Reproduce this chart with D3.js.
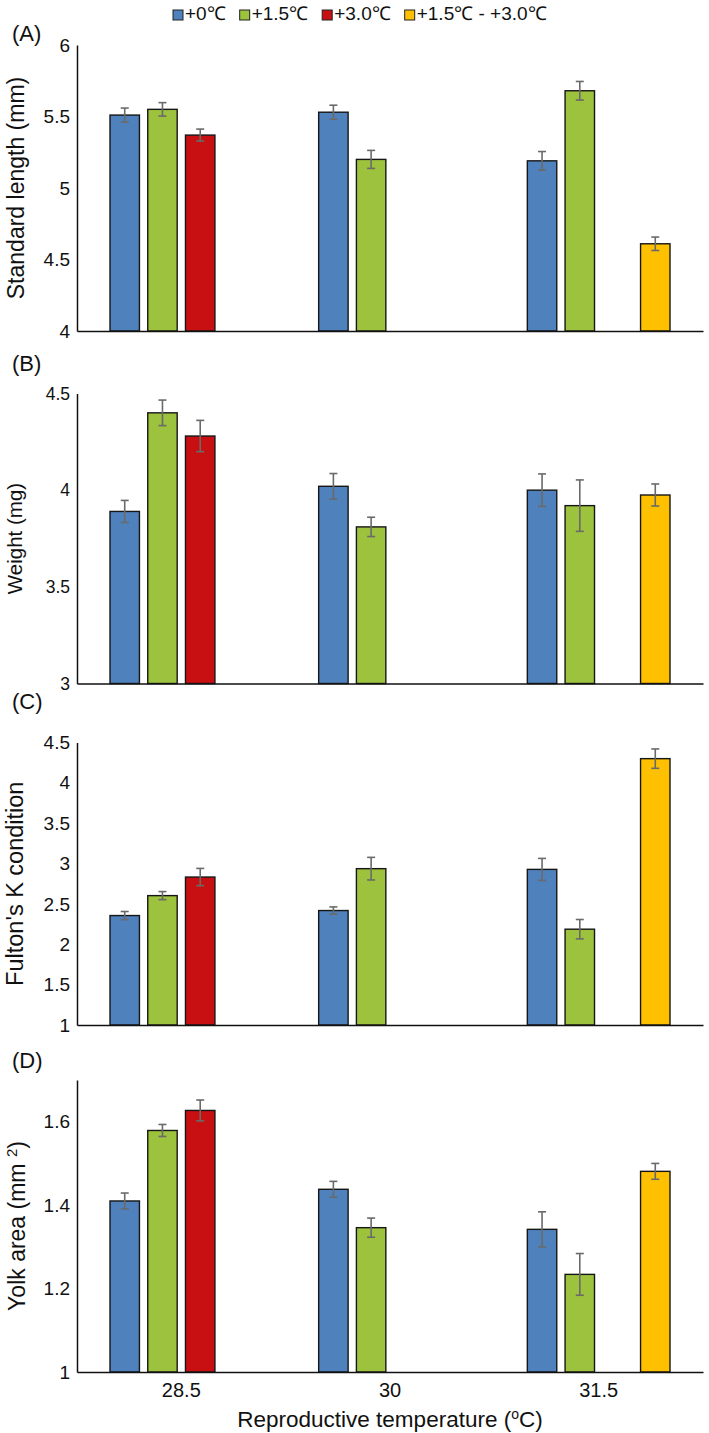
<!DOCTYPE html>
<html>
<head>
<meta charset="utf-8">
<script src="https://cdn.jsdelivr.net/npm/d3@7"></script>
<style>
  html, body { margin: 0; padding: 0; background: #fff; }
  svg { display: block; }
  text { font-family: "Liberation Sans", Arial, Helvetica, sans-serif; fill: #111; }
</style>
</head>
<body>
<svg id="chart" width="709" height="1433"></svg>
<script>
// ---------- data ----------
const categories = ["28.5", "30", "31.5"];
const series = ["+0℃", "+1.5℃", "+3.0℃", "+1.5℃ - +3.0℃"];
const seriesColors = ["#4F81BD", "#9DC33E", "#C81012", "#FFC000"];

// values per category, in series order (null = no bar)
const lengthMeans = [[5.51, 5.55, 5.37, null], [5.53, 5.20, null, null], [5.19, 5.68, null, 4.61]];
const lengthErrs  = [[0.049, 0.047, 0.042, null], [0.049, 0.063, null, null], [0.065, 0.065, null, 0.047]];

const weightMeans = [[3.89, 4.40, 4.28, null], [4.02, 3.81, null, null], [4.00, 3.92, null, 3.975]];
const weightErrs  = [[0.057, 0.066, 0.081, null], [0.066, 0.05, null, null], [0.084, 0.133, null, 0.057]];

const kMeans = [[2.356, 2.603, 2.833, null], [2.418, 2.937, null, null], [2.928, 2.187, null, 4.30]];
const kErrs  = [[0.05, 0.05, 0.107, null], [0.045, 0.14, null, null], [0.136, 0.12, null, 0.12]];

const yolkMeans = [[1.410, 1.579, 1.627, null], [1.438, 1.346, null, null], [1.342, 1.234, null, 1.481]];
const yolkErrs  = [[0.019, 0.0144, 0.025, null], [0.019, 0.023, null, null], [0.042, 0.05, null, 0.019]];

const lengthTicks = [4, 4.5, 5, 5.5, 6];
const weightTicks = [3, 3.5, 4, 4.5];
const kTicks = [1, 1.5, 2, 2.5, 3, 3.5, 4, 4.5];
const yolkTicks = [1, 1.2, 1.4, 1.6];

// ---------- layout ----------
const svg = d3.select("#chart");
const left = 77, right = 703;

const x0 = d3.scaleBand().domain(categories).range([left, right]);
const x1 = d3.scaleBand().domain(series).range([33, x0.bandwidth() - 33]).paddingInner(0.22);

const panels = [
  { label: "(A)", labelY: 41, title: "Standard length (mm)", titleX: 23.5, titleSize: 23,
    means: lengthMeans, errs: lengthErrs, ticks: lengthTicks, domain: [4, 6], top: 45, bottom: 331, tickSize: 19 },
  { label: "(B)", labelY: 371, title: "Weight (mg)", titleX: 22, titleSize: 20.5,
    means: weightMeans, errs: weightErrs, ticks: weightTicks, domain: [3, 4.5], top: 393.5, bottom: 683.5, tickSize: 17.5 },
  { label: "(C)", labelY: 709, title: "Fulton's K condition", titleX: 22.5, titleSize: 23.5,
    means: kMeans, errs: kErrs, ticks: kTicks, domain: [1, 4.5], top: 742.5, bottom: 1025, tickSize: 19 },
  { label: "(D)", labelY: 1068, title: "Yolk area (mm ", titleSup: "2", titleEnd: ")", titleX: 25, titleSize: 23,
    means: yolkMeans, errs: yolkErrs, ticks: yolkTicks, domain: [1, 1.7], top: 1080, bottom: 1372, tickSize: 19 }
];

panels.forEach(p => {
  const g = svg.append("g");
  const y = d3.scaleLinear().domain(p.domain).range([p.bottom, p.top]);

  // bars
  categories.forEach((c, ci) => {
    const cg = g.append("g").attr("transform", `translate(${x0(c)},0)`);
    series.forEach((s, si) => {
      const v = p.means[ci][si];
      if (v == null) return;
      const bx = x1(s), bw = x1.bandwidth();
      cg.append("rect")
        .attr("x", bx).attr("y", y(v))
        .attr("width", bw).attr("height", y(p.domain[0]) - y(v))
        .attr("fill", seriesColors[si])
        .attr("stroke", "#161616").attr("stroke-width", 1.4);
      const e = p.errs[ci][si];
      const cx = bx + bw / 2;
      const eg = cg.append("g").attr("stroke", "#6a6a6a").attr("stroke-width", 1.6);
      eg.append("line").attr("x1", cx).attr("x2", cx).attr("y1", y(v + e)).attr("y2", y(v - e));
      eg.append("line").attr("x1", cx - 4).attr("x2", cx + 4).attr("y1", y(v + e)).attr("y2", y(v + e));
      eg.append("line").attr("x1", cx - 4).attr("x2", cx + 4).attr("y1", y(v - e)).attr("y2", y(v - e));
    });
  });

  // y axis
  const yAxis = d3.axisLeft(y).tickValues(p.ticks).tickSize(0).tickPadding(7)
    .tickFormat(d => d3.format("~g")(d));
  const ya = g.append("g").attr("transform", `translate(${left},0)`).call(yAxis);
  ya.select(".domain").attr("stroke", "#111").attr("stroke-width", 1.5);
  ya.selectAll("text").attr("font-size", p.tickSize).attr("fill", "#111")
    .attr("font-family", "'Liberation Sans', Arial, sans-serif");

  // x axis baseline
  const xAxis = d3.axisBottom(x0).tickSize(0).tickFormat("");
  const xa = g.append("g").attr("transform", `translate(0,${p.bottom})`).call(xAxis);
  xa.select(".domain").attr("stroke", "#111").attr("stroke-width", 1.5);

  // panel label
  g.append("text").attr("x", 12).attr("y", p.labelY).attr("font-size", 22).text(p.label);

  // y title
  const t = g.append("text")
    .attr("transform", `translate(${p.titleX},${(p.top + p.bottom) / 2}) rotate(-90)`)
    .attr("text-anchor", "middle").attr("font-size", p.titleSize);
  t.append("tspan").text(p.title);
  if (p.titleSup) {
    t.append("tspan").attr("font-size", p.titleSize * 0.65).attr("dy", -8).text(p.titleSup);
    t.append("tspan").attr("dy", 8).text(p.titleEnd);
  }
});

// x tick labels (bottom panel only)
categories.forEach(c => {
  svg.append("text")
    .attr("x", x0(c) + x0.bandwidth() / 2).attr("y", 1397)
    .attr("text-anchor", "middle").attr("font-size", 20).text(c);
});

// x title
const xt = svg.append("text").attr("x", (left + right) / 2).attr("y", 1427)
  .attr("text-anchor", "middle").attr("font-size", 22.5);
xt.append("tspan").text("Reproductive temperature (");
xt.append("tspan").attr("font-size", 14).attr("dy", -8).text("o");
xt.append("tspan").attr("dy", 8).text("C)");

// legend
const leg = svg.append("g");
let lx = 173;
series.forEach((s, i) => {
  leg.append("rect").attr("x", lx).attr("y", 10).attr("width", 10).attr("height", 10)
    .attr("fill", seriesColors[i]).attr("stroke", "#222").attr("stroke-width", 1);
  const tx = leg.append("text").attr("x", lx + 12).attr("y", 20).attr("font-size", 19).text(s);
  lx += 12 + tx.node().getComputedTextLength() + 14;
});
</script>
</body>
</html>
